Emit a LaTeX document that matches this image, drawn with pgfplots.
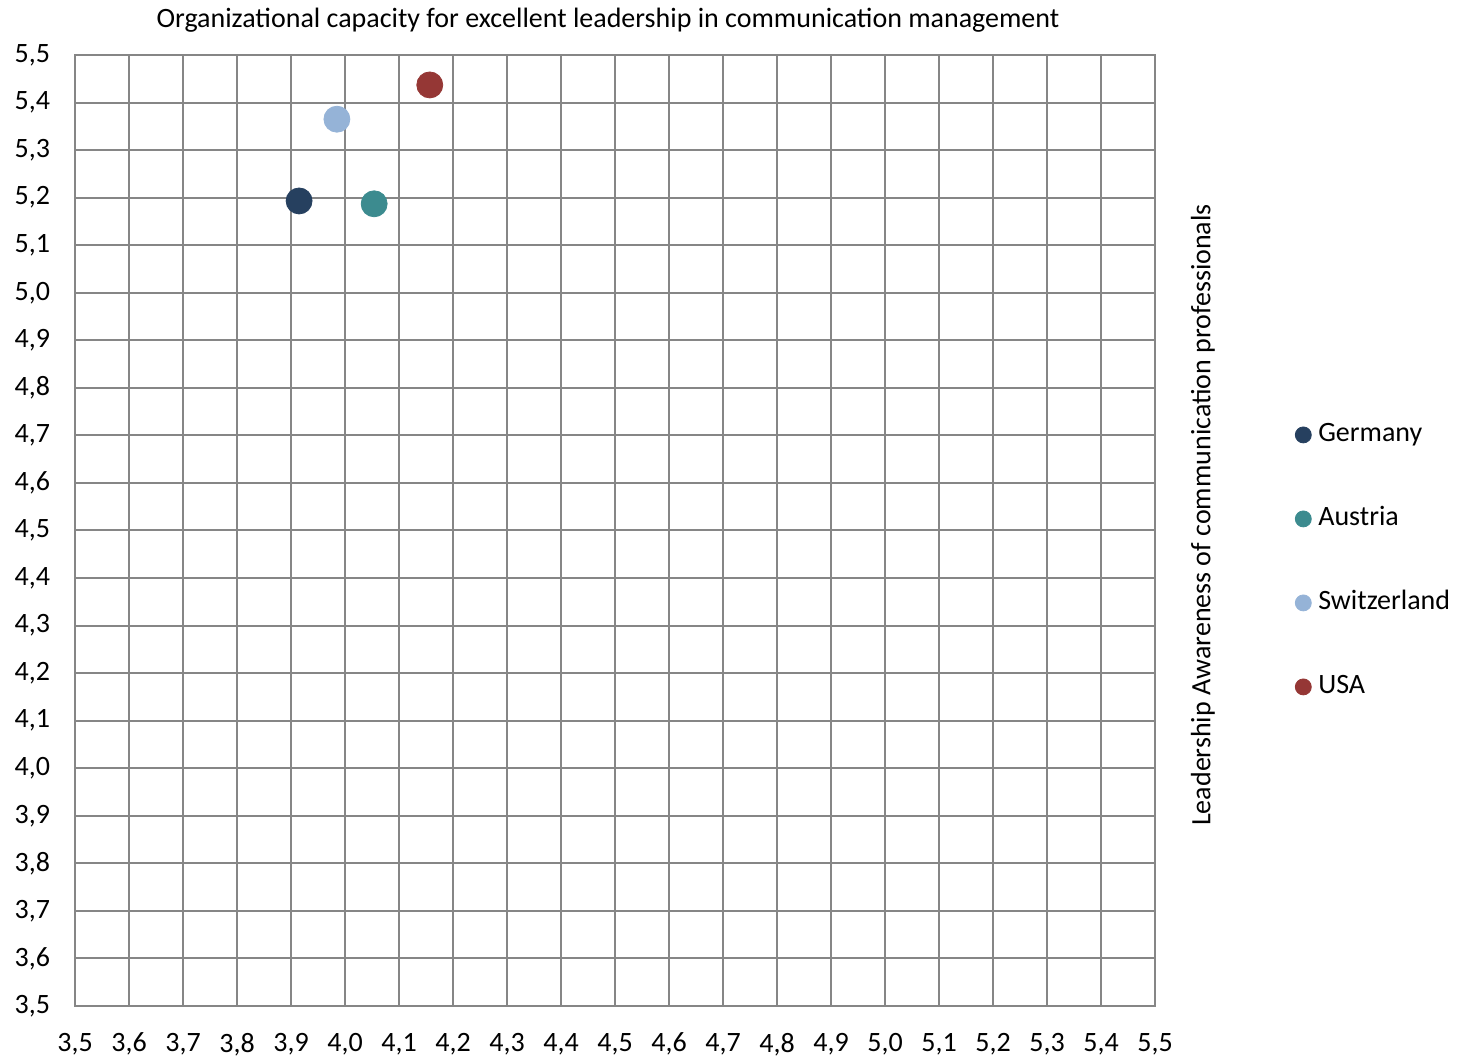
\documentclass[border=0pt]{standalone}
\usepackage{pgfplots}
\pgfplotsset{compat=1.18}
\usepackage{fontspec}
\setmainfont{Carlito}
\newcommand\cf{\fontsize{14}{17}\selectfont}
\definecolor{cGer}{HTML}{26405F}
\definecolor{cAut}{HTML}{3C8B8F}
\definecolor{cSui}{HTML}{95B3D7}
\definecolor{cUsa}{HTML}{953735}
\definecolor{gridc}{HTML}{868686}
\begin{document}
\begin{tikzpicture}
\useasboundingbox (-37.5pt,-26pt) rectangle (694.5pt,503pt);
\begin{axis}[
  scale only axis, width=540pt, height=475.5pt,
  xmin=3.5, xmax=5.5, ymin=3.5, ymax=5.5,
  xtick distance=0.1, ytick distance=0.1,
  grid=major,
  major grid style={draw=gridc, line width=1pt},
  axis line style={draw=gridc, line width=1pt},
  major tick length=0pt,
  /pgf/number format/assume math mode=true,
  /pgf/number format/use comma,
  /pgf/number format/fixed,
  /pgf/number format/fixed zerofill,
  /pgf/number format/precision=1,
  tick label style={font=\cf},
  xticklabel shift=10pt,
  yticklabel shift=9pt,
  legend style={draw=none, fill=none, font=\cf, at={(1.124,0.468)}, anchor=west,
    row sep=27pt, nodes={inner sep=1pt, text height=10pt, text depth=3pt}},
  legend cell align=left,
  legend image code/.code={\path[draw=none,fill=none] (-4pt,0pt) rectangle (6.5pt,0.1pt);\draw[#1, mark size=4pt] plot coordinates {(0pt,0pt)};},
]
\addplot[only marks, mark=*, mark size=6.5pt, color=cGer] coordinates {(3.915,5.193)};
\addlegendentry{Germany}
\addplot[only marks, mark=*, mark size=6.5pt, color=cAut] coordinates {(4.054,5.187)};
\addlegendentry{Austria}
\addplot[only marks, mark=*, mark size=6.5pt, color=cSui] coordinates {(3.985,5.365)};
\addlegendentry{Switzerland}
\addplot[only marks, mark=*, mark size=6.5pt, color=cUsa] coordinates {(4.157,5.437)};
\addlegendentry{USA}
\end{axis}
\node[font=\cf] at (266.5pt,493pt) {Organizational capacity for excellent leadership in communication management};
\node[font=\cf, rotate=90] at (564pt,245.5pt) {Leadership Awareness of communication professionals};
\end{tikzpicture}
\end{document}
